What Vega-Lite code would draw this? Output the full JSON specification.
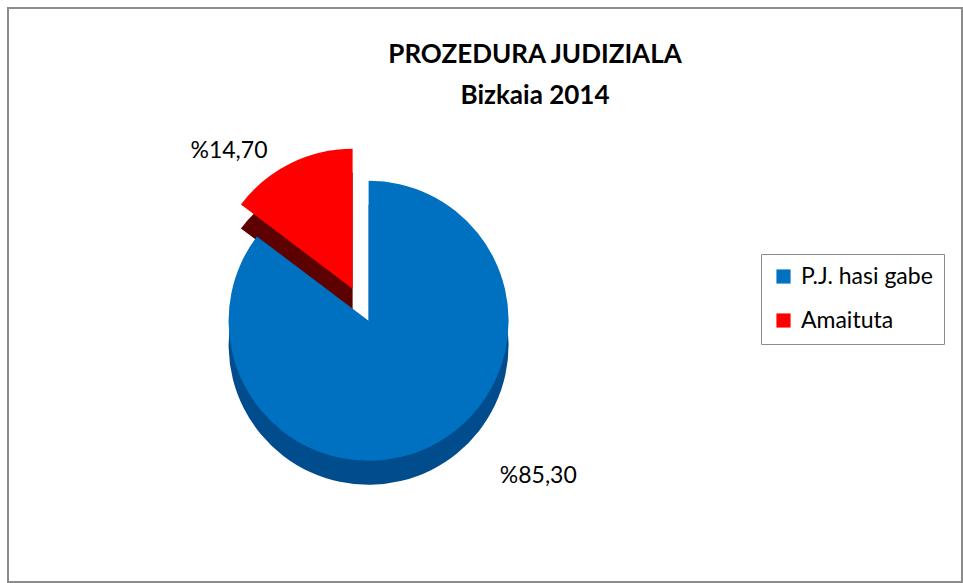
{
  "$schema": "https://vega.github.io/schema/vega-lite/v6.json",
  "autosize": {"type": "fit", "contains": "padding"},
  "width": 963,
  "height": 583,
  "padding": {"left": 7, "top": 7, "right": 0, "bottom": 0},
  "background": "white",
  "config": {
    "view": {"stroke": null},
    "font": "Lato"
  },
  "title": {
    "text": ["PROZEDURA JUDIZIALA", "Bizkaia 2014"],
    "fontSize": 26,
    "fontWeight": "bold",
    "font": "Lato",
    "color": "#000000",
    "anchor": "middle",
    "dx": 50,
    "offset": -102,
    "lineHeight": 41
  },
  "data": {
    "values": [
      {"cat": "P.J. hasi gabe", "value": 85.3, "label": "%85,30", "ord": 1},
      {"cat": "Amaituta", "value": 14.7, "label": "%14,70", "ord": 2}
    ]
  },
  "resolve": {"scale": {"color": "independent"}, "legend": {"color": "independent"}},
  "layer": [
    {
      "data": {"values": [{"frame": 1}]},
      "mark": {"type": "rect", "fill": null, "stroke": "#8c8c8c", "strokeWidth": 2},
      "encoding": {}
    },
    {
      "mark": {
        "type": "arc",
        "outerRadius": 140,
        "x": {"expr": "width*0.378"},
        "y": {"expr": "height*0.545"},
        "xOffset": {"expr": "datum.cat === 'Amaituta' ? -16 : 0"},
        "yOffset": {"expr": "datum.cat === 'Amaituta' ? -8 : 24"}
      },
      "encoding": {
        "theta": {"field": "value", "type": "quantitative", "stack": true},
        "order": {"field": "ord", "type": "quantitative"},
        "color": {
          "field": "cat", "type": "nominal", "legend": null,
          "scale": {"domain": ["P.J. hasi gabe", "Amaituta"], "range": ["#004c8c", "#5c0000"]}
        }
      }
    },
    {
      "mark": {
        "type": "arc",
        "outerRadius": 140,
        "x": {"expr": "width*0.378"},
        "y": {"expr": "height*0.545"},
        "xOffset": {"expr": "datum.cat === 'Amaituta' ? -16 : 0"},
        "yOffset": {"expr": "datum.cat === 'Amaituta' ? -32 : 0"}
      },
      "encoding": {
        "theta": {"field": "value", "type": "quantitative", "stack": true},
        "order": {"field": "ord", "type": "quantitative"},
        "color": {
          "field": "cat", "type": "nominal",
          "scale": {"domain": ["P.J. hasi gabe", "Amaituta"], "range": ["#0070c0", "#ff0000"]},
          "legend": {
            "title": null,
            "orient": "none",
            "legendX": 753,
            "legendY": 246,
            "direction": "vertical",
            "strokeColor": "#8c8c8c",
            "padding": 11,
            "symbolType": "square",
            "symbolSize": 200,
            "symbolStrokeWidth": 0,
            "labelFontSize": 23,
            "labelFont": "Lato",
            "labelColor": "#000000",
            "rowPadding": 20,
            "labelOffset": 6
          }
        }
      }
    },
    {
      "mark": {
        "type": "text",
        "fontSize": 23,
        "font": "Lato",
        "color": "#000000",
        "x": {"expr": "width*0.378"},
        "y": {"expr": "height*0.545"},
        "radius": 190,
        "dx": {"expr": "datum.cat === 'Amaituta' ? -55 : 85"},
        "dy": {"expr": "datum.cat === 'Amaituta' ? 0 : -15"}
      },
      "encoding": {
        "theta": {"field": "value", "type": "quantitative", "stack": true},
        "order": {"field": "ord", "type": "quantitative"},
        "text": {"field": "label"}
      }
    }
  ]
}
